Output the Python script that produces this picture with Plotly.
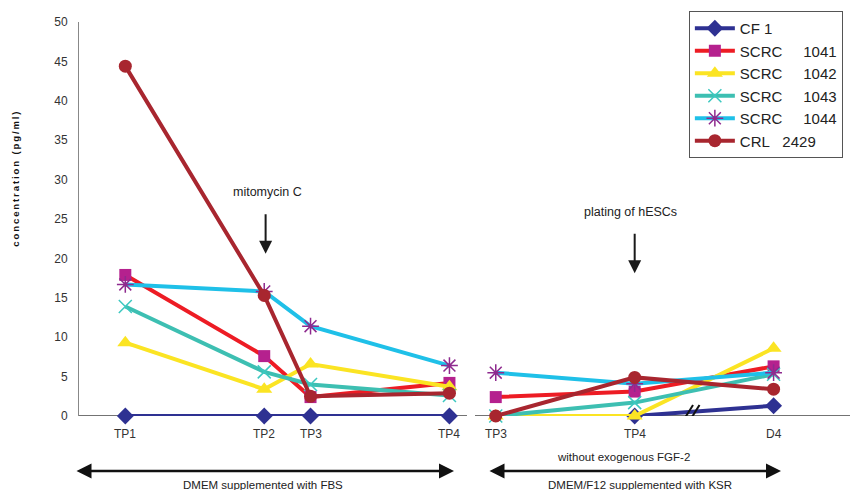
import plotly.graph_objects as go

# Sampling points: FBS culture phase and KSR culture phase
tick_labels_fbs = ["TP1", "TP2", "TP3", "TP4"]
tick_labels_ksr = ["TP3", "TP4", "D4"]
x_fbs = [0, 3, 4, 7]
x_ksr = [8, 11, 14]

# FGF-2 concentration (pg/ml) per feeder line
cf1_fbs = [0, 0, 0, 0]
cf1_ksr = [None, 0, 1.3]
scrc1041_fbs = [17.9, 7.6, 2.4, 4.2]
scrc1041_ksr = [2.4, 3.1, 6.3]
scrc1042_fbs = [9.3, 3.4, 6.6, 3.7]
scrc1042_ksr = [0, 0, 8.6]
scrc1043_fbs = [13.9, 5.6, 4.0, 2.6]
scrc1043_ksr = [0, 1.7, 5.3]
scrc1044_fbs = [16.7, 15.8, 11.4, 6.4]
scrc1044_ksr = [5.5, 4.1, 5.5]
crl2429_fbs = [44.4, 15.3, 2.5, 2.9]
crl2429_ksr = [0, 4.9, 3.4]

y_ticks = [0, 5, 10, 15, 20, 25, 30, 35, 40, 45, 50]

NB = "\u00a0"
series = [
    ("CF" + NB + "1", cf1_fbs, cf1_ksr, "#2E3192", "diamond", "#2E3192", 13, 1),
    ("SCRC" + NB * 5 + "1041", scrc1041_fbs, scrc1041_ksr, "#ED1C24", "square", "#B5218E", 12, 1),
    ("SCRC" + NB * 5 + "1042", scrc1042_fbs, scrc1042_ksr, "#FBE423", "triangle-up", "#FBE423", 14, 1),
    ("SCRC" + NB * 5 + "1043", scrc1043_fbs, scrc1043_ksr, "#3DBFB2", "x-thin-open", "#3CC8C0", 13, 1.5),
    ("SCRC" + NB * 5 + "1044", scrc1044_fbs, scrc1044_ksr, "#1FC0E8", "asterisk-open", "#8E2A8E", 14, 1.5),
    ("CRL" + NB * 3 + "2429", crl2429_fbs, crl2429_ksr, "#A8262F", "circle", "#A8262F", 13, 1),
]

fig = go.Figure()
for name, v1, v2, lc, sym, mc, ms, mlw in series:
    xs = x_fbs + [None] + x_ksr
    ys = v1 + [None] + v2
    marker = dict(symbol=sym, size=ms, color=mc)
    if sym.endswith("-open"):
        marker["line"] = dict(color=mc, width=mlw)
    else:
        marker["line"] = dict(width=0)
    fig.add_trace(go.Scatter(
        x=xs, y=ys, name=name, mode="lines+markers",
        line=dict(color=lc, width=4), marker=marker,
        cliponaxis=False, connectgaps=False,
    ))

FONT = "Liberation Sans, Arial, sans-serif"


def label(x, y, text, size, xref="x", yref="y", color="#222"):
    return dict(x=x, y=y, xref=xref, yref=yref, text=text, showarrow=False,
                xanchor="center", yanchor="middle",
                font=dict(size=size, color=color, family=FONT))


annotations = []
# x tick labels
for xv, lab in zip(x_fbs + x_ksr, tick_labels_fbs + tick_labels_ksr):
    a = label(xv, 0, lab, 12, color="#333")
    a["yshift"] = -18
    annotations.append(a)

# treatment markers
annotations += [
    label(3.07, 28.4, "mitomycin C", 12.5),
    dict(x=3.03, y=20.6, xref="x", yref="y", text="", showarrow=True, ax=0, ay=-41,
         arrowhead=2, arrowsize=1.3, arrowwidth=2, arrowcolor="#1a1a1a"),
    label(10.9, 25.9, "plating of hESCs", 12.5),
    dict(x=11.0, y=18.1, xref="x", yref="y", text="", showarrow=True, ax=0, ay=-41,
         arrowhead=2, arrowsize=1.3, arrowwidth=2, arrowcolor="#1a1a1a"),
]

# culture-condition spans beneath the axis
annotations += [
    dict(x=0.4864, y=-0.1396, xref="paper", yref="paper", text="", showarrow=True,
         ax=-379, ay=0, arrowside="end+start", arrowhead=2, arrowsize=1.2,
         arrowwidth=2.5, arrowcolor="#111"),
    dict(x=0.9105, y=-0.1396, xref="paper", yref="paper", text="", showarrow=True,
         ax=-293, ay=0, arrowside="end+start", arrowhead=2, arrowsize=1.2,
         arrowwidth=2.5, arrowcolor="#111"),
    label(0.7056, -0.104, "without exogenous FGF-2", 11.5, "paper", "paper"),
    label(0.2387, -0.175, "DMEM supplemented with FBS", 11.5, "paper", "paper"),
    label(0.7276, -0.175, "DMEM/F12 supplemented with KSR", 11.5, "paper", "paper"),
]

# y-axis title with spaced letters
ytitle = "\u2009".join("concentration (pg/ml)")
yt = label(-0.0835, 0.6015, "<b>" + ytitle + "</b>", 9.5, "paper", "paper", "#111")
yt["textangle"] = -90
annotations.append(yt)

shapes = [
    # x axis, interrupted between the two culture phases
    dict(type="line", xref="paper", yref="y", x0=0, x1=0.5032, y0=0, y1=0,
         line=dict(color="#444", width=1.5), layer="below"),
    dict(type="line", xref="paper", yref="y", x0=0.5136, x1=1, y0=0, y1=0,
         line=dict(color="#444", width=1.5), layer="below"),
    # break marks on the CF 1 line
    dict(type="line", xref="x", yref="y", x0=12.08, x1=12.26, y0=-0.3, y1=1.4,
         line=dict(color="#111", width=2)),
    dict(type="line", xref="x", yref="y", x0=12.22, x1=12.40, y0=-0.3, y1=1.4,
         line=dict(color="#111", width=2)),
]

fig.update_layout(
    width=854, height=490,
    margin=dict(l=79, r=4, t=22, b=74),
    plot_bgcolor="white", paper_bgcolor="white",
    font=dict(family=FONT, color="#333"),
    xaxis=dict(range=[-1, 15.65], showgrid=False, zeroline=False, showline=False,
               showticklabels=False, ticks=""),
    yaxis=dict(range=[0, 50], tickvals=y_ticks, showgrid=False, zeroline=False,
               showline=True, linecolor="#888", linewidth=1, ticks="",
               ticklabelstandoff=8, tickfont=dict(size=12, color="#333", family=FONT)),
    legend=dict(x=0.791, y=1.028, xanchor="left", yanchor="top",
                bordercolor="#555", borderwidth=1, bgcolor="white",
                itemwidth=40, font=dict(size=15, color="#222", family=FONT),
                tracegroupgap=0),
    showlegend=True,
    annotations=annotations,
    shapes=shapes,
)

fig.write_html("out.html")
